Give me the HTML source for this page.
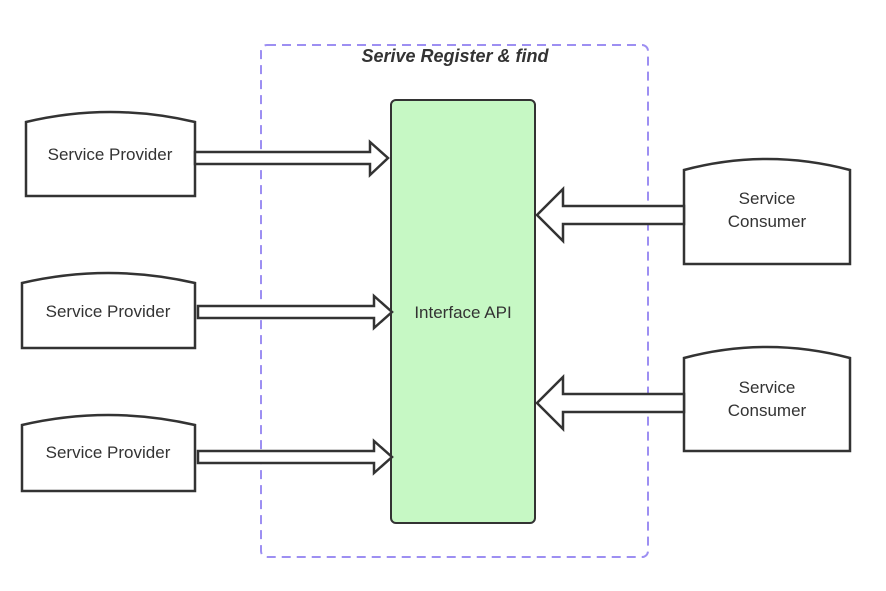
<!DOCTYPE html>
<html><head><meta charset="utf-8"><style>
html,body{margin:0;padding:0;background:#fff;}
svg{display:block;}
text{font-family:"Liberation Sans",sans-serif;fill:#333;font-size:17px;}
</style></head><body>
<svg width="886" height="591" viewBox="0 0 886 591" xmlns="http://www.w3.org/2000/svg">
<rect x="261" y="45" width="387" height="512" rx="6" fill="none" stroke="#9d8ff2" stroke-width="2" stroke-dasharray="9,6"/>
<text x="455" y="62" text-anchor="middle" font-style="italic" font-weight="bold" style="font-size:18px;fill:#333">Serive Register &amp; find</text>
<rect x="391" y="100" width="144" height="423" rx="5" fill="#c6f8c4" stroke="#333" stroke-width="2"/>
<text x="463" y="318" text-anchor="middle">Interface API</text>
<g fill="#fff" stroke="#333" stroke-width="2.5">
<path d="M26 122 Q110 102 195 122 L195 196 L26 196 Z"/>
<path d="M22 283 Q108 263 195 283 L195 348 L22 348 Z"/>
<path d="M22 425 Q108 405 195 425 L195 491 L22 491 Z"/>
<path d="M684 170 Q767 148 850 170 L850 264 L684 264 Z"/>
<path d="M684 358 Q767 336 850 358 L850 451 L684 451 Z"/>
<path d="M195 152 L370 152 L370 142 L388 158 L370 175 L370 164 L195 164 Z"/>
<path d="M198 306 L374 306 L374 296 L392 312 L374 328 L374 318 L198 318 Z"/>
<path d="M198 451 L374 451 L374 441 L392 457 L374 473 L374 463 L198 463 Z"/>
<path d="M684 206 L563 206 L563 189 L537 215 L563 241 L563 224 L684 224 Z"/>
<path d="M684 394 L563 394 L563 377 L537 403 L563 429 L563 412 L684 412 Z"/>
</g>
<text x="110" y="160" text-anchor="middle">Service Provider</text>
<text x="108" y="317" text-anchor="middle">Service Provider</text>
<text x="108" y="458" text-anchor="middle">Service Provider</text>
<text x="767" y="204" text-anchor="middle">Service</text>
<text x="767" y="227" text-anchor="middle">Consumer</text>
<text x="767" y="393" text-anchor="middle">Service</text>
<text x="767" y="416" text-anchor="middle">Consumer</text>
</svg>
</body></html>
